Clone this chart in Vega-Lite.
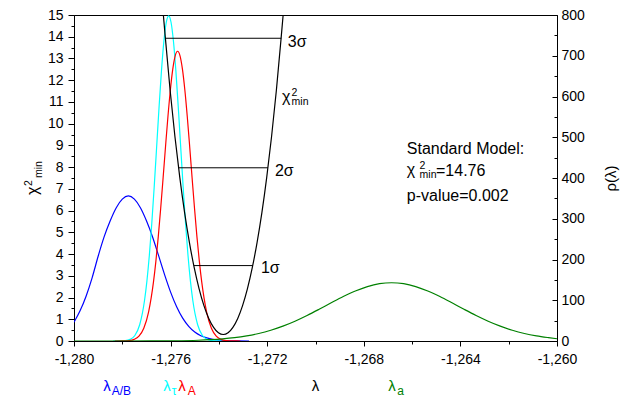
{
  "$schema": "https://vega.github.io/schema/vega-lite/v6.json",
  "width": 483,
  "height": 326,
  "autosize": {"type": "none"},
  "padding": {"left": 74, "top": 15, "right": 86, "bottom": 57},
  "background": "white",
  "config": {
    "font": "Liberation Sans",
    "view": {"stroke": "#000", "strokeWidth": 1},
    "axis": {"domainColor": "#000", "tickColor": "#000", "labelColor": "#000", "labelFont": "Liberation Sans", "labelFontSize": 14, "grid": false, "titleFontWeight": "normal", "titleColor": "#000", "titleFont": "Liberation Sans", "domainWidth": 1, "tickWidth": 1}
  },
  "datasets": {
    "rho": [
      {"x": -1280, "r": 46, "s": "b"}, {"x": -1279.75, "r": 74, "s": "b"}, {"x": -1279.5, "r": 110, "s": "b"}, {"x": -1279.25, "r": 155, "s": "b"}, {"x": -1279, "r": 208, "s": "b"}, {"x": -1278.75, "r": 256, "s": "b"}, {"x": -1278.5, "r": 295, "s": "b"}, {"x": -1278.25, "r": 327, "s": "b"}, {"x": -1278, "r": 348, "s": "b"}, {"x": -1277.75, "r": 356, "s": "b"}, {"x": -1277.5, "r": 348, "s": "b"}, {"x": -1277.25, "r": 327, "s": "b"}, {"x": -1277, "r": 295, "s": "b"}, {"x": -1276.75, "r": 256, "s": "b"}, {"x": -1276.5, "r": 210, "s": "b"}, {"x": -1276.25, "r": 163, "s": "b"}, {"x": -1276, "r": 120, "s": "b"}, {"x": -1275.75, "r": 84, "s": "b"}, {"x": -1275.5, "r": 56, "s": "b"}, {"x": -1275.25, "r": 36, "s": "b"}, {"x": -1275, "r": 22, "s": "b"}, {"x": -1274.75, "r": 13, "s": "b"}, {"x": -1274.5, "r": 7.5, "s": "b"}, {"x": -1274.25, "r": 4, "s": "b"}, {"x": -1274, "r": 2, "s": "b"}, {"x": -1273.75, "r": 1, "s": "b"}, {"x": -1273.25, "r": 0.2, "s": "b"}, {"x": -1272.75, "r": 0, "s": "b"},
      {"x": -1278.38, "r": 0.01, "s": "c"}, {"x": -1278.08, "r": 0.19, "s": "c"}, {"x": -1277.88, "r": 0.94, "s": "c"}, {"x": -1277.68, "r": 3.9, "s": "c"}, {"x": -1277.48, "r": 13.5, "s": "c"}, {"x": -1277.28, "r": 39.8, "s": "c"}, {"x": -1277.08, "r": 99.4, "s": "c"}, {"x": -1276.98, "r": 147.7, "s": "c"}, {"x": -1276.88, "r": 210.4, "s": "c"}, {"x": -1276.78, "r": 287.6, "s": "c"}, {"x": -1276.68, "r": 377.1, "s": "c"}, {"x": -1276.58, "r": 474.2, "s": "c"}, {"x": -1276.48, "r": 571.8, "s": "c"}, {"x": -1276.38, "r": 661.6, "s": "c"}, {"x": -1276.28, "r": 734.2, "s": "c"}, {"x": -1276.18, "r": 781.6, "s": "c"}, {"x": -1276.08, "r": 798, "s": "c"}, {"x": -1275.98, "r": 781.6, "s": "c"}, {"x": -1275.88, "r": 734.2, "s": "c"}, {"x": -1275.78, "r": 661.6, "s": "c"}, {"x": -1275.68, "r": 571.8, "s": "c"}, {"x": -1275.58, "r": 474.2, "s": "c"}, {"x": -1275.48, "r": 377.1, "s": "c"}, {"x": -1275.38, "r": 287.6, "s": "c"}, {"x": -1275.28, "r": 210.4, "s": "c"}, {"x": -1275.18, "r": 147.7, "s": "c"}, {"x": -1275.08, "r": 99.4, "s": "c"}, {"x": -1274.88, "r": 39.8, "s": "c"}, {"x": -1274.68, "r": 13.5, "s": "c"}, {"x": -1274.48, "r": 3.9, "s": "c"}, {"x": -1274.28, "r": 0.94, "s": "c"}, {"x": -1274.08, "r": 0.19, "s": "c"}, {"x": -1273.78, "r": 0.01, "s": "c"},
      {"x": -1278.31, "r": 0.015, "s": "r"}, {"x": -1278.01, "r": 0.15, "s": "r"}, {"x": -1277.71, "r": 1.21, "s": "r"}, {"x": -1277.51, "r": 4.06, "s": "r"}, {"x": -1277.31, "r": 12.0, "s": "r"}, {"x": -1277.11, "r": 31.2, "s": "r"}, {"x": -1276.91, "r": 71.6, "s": "r"}, {"x": -1276.71, "r": 144.3, "s": "r"}, {"x": -1276.61, "r": 195.5, "s": "r"}, {"x": -1276.51, "r": 256.2, "s": "r"}, {"x": -1276.41, "r": 325.6, "s": "r"}, {"x": -1276.31, "r": 400.5, "s": "r"}, {"x": -1276.21, "r": 477.3, "s": "r"}, {"x": -1276.11, "r": 550.9, "s": "r"}, {"x": -1276.01, "r": 615.9, "s": "r"}, {"x": -1275.91, "r": 667.1, "s": "r"}, {"x": -1275.81, "r": 699.8, "s": "r"}, {"x": -1275.71, "r": 711, "s": "r"}, {"x": -1275.61, "r": 699.8, "s": "r"}, {"x": -1275.51, "r": 667.1, "s": "r"}, {"x": -1275.41, "r": 615.9, "s": "r"}, {"x": -1275.31, "r": 550.9, "s": "r"}, {"x": -1275.21, "r": 477.3, "s": "r"}, {"x": -1275.11, "r": 400.5, "s": "r"}, {"x": -1275.01, "r": 325.6, "s": "r"}, {"x": -1274.91, "r": 256.2, "s": "r"}, {"x": -1274.81, "r": 195.5, "s": "r"}, {"x": -1274.71, "r": 144.3, "s": "r"}, {"x": -1274.51, "r": 71.6, "s": "r"}, {"x": -1274.31, "r": 31.2, "s": "r"}, {"x": -1274.11, "r": 12.0, "s": "r"}, {"x": -1273.91, "r": 4.06, "s": "r"}, {"x": -1273.71, "r": 1.21, "s": "r"}, {"x": -1273.41, "r": 0.15, "s": "r"}, {"x": -1273.11, "r": 0.015, "s": "r"},
      {"x": -1280, "r": 0, "s": "g"}, {"x": -1278.85, "r": 0.008, "s": "g"}, {"x": -1277.85, "r": 0.04, "s": "g"}, {"x": -1276.85, "r": 0.17, "s": "g"}, {"x": -1275.85, "r": 0.6, "s": "g"}, {"x": -1274.85, "r": 1.9, "s": "g"}, {"x": -1274.35, "r": 3.2, "s": "g"}, {"x": -1273.85, "r": 5.2, "s": "g"}, {"x": -1273.35, "r": 8.2, "s": "g"}, {"x": -1272.85, "r": 12.6, "s": "g"}, {"x": -1272.35, "r": 18.5, "s": "g"}, {"x": -1271.85, "r": 26.4, "s": "g"}, {"x": -1271.35, "r": 36.4, "s": "g"}, {"x": -1270.85, "r": 48.5, "s": "g"}, {"x": -1270.35, "r": 62.5, "s": "g"}, {"x": -1269.85, "r": 77.8, "s": "g"}, {"x": -1269.35, "r": 93.7, "s": "g"}, {"x": -1268.85, "r": 109.1, "s": "g"}, {"x": -1268.35, "r": 122.8, "s": "g"}, {"x": -1267.85, "r": 133.6, "s": "g"}, {"x": -1267.35, "r": 140.6, "s": "g"}, {"x": -1266.85, "r": 143, "s": "g"}, {"x": -1266.35, "r": 140.6, "s": "g"}, {"x": -1265.85, "r": 133.6, "s": "g"}, {"x": -1265.35, "r": 122.8, "s": "g"}, {"x": -1264.85, "r": 109.1, "s": "g"}, {"x": -1264.35, "r": 93.7, "s": "g"}, {"x": -1263.85, "r": 77.8, "s": "g"}, {"x": -1263.35, "r": 62.5, "s": "g"}, {"x": -1262.85, "r": 48.5, "s": "g"}, {"x": -1262.35, "r": 36.4, "s": "g"}, {"x": -1261.85, "r": 26.4, "s": "g"}, {"x": -1261.35, "r": 18.5, "s": "g"}, {"x": -1260.85, "r": 12.6, "s": "g"}, {"x": -1260.35, "r": 8.2, "s": "g"}, {"x": -1260, "r": 5.5, "s": "g"}
    ],
    "chi": [
      {"x": -1276.30, "y": 15}, {"x": -1276.22, "y": 13.98}, {"x": -1276.02, "y": 11.54}, {"x": -1275.82, "y": 9.40}, {"x": -1275.62, "y": 7.53}, {"x": -1275.42, "y": 5.91}, {"x": -1275.22, "y": 4.53}, {"x": -1275.02, "y": 3.36}, {"x": -1274.82, "y": 2.40}, {"x": -1274.62, "y": 1.63}, {"x": -1274.42, "y": 1.04}, {"x": -1274.22, "y": 0.63}, {"x": -1274.02, "y": 0.38}, {"x": -1273.82, "y": 0.30}, {"x": -1273.62, "y": 0.38}, {"x": -1273.42, "y": 0.63}, {"x": -1273.22, "y": 1.04}, {"x": -1273.02, "y": 1.63}, {"x": -1272.82, "y": 2.40}, {"x": -1272.62, "y": 3.36}, {"x": -1272.42, "y": 4.53}, {"x": -1272.22, "y": 5.91}, {"x": -1272.02, "y": 7.53}, {"x": -1271.82, "y": 9.40}, {"x": -1271.62, "y": 11.54}, {"x": -1271.42, "y": 13.98}, {"x": -1271.34, "y": 15}
    ],
    "sig": [
      {"x": -1275.04, "x2": -1272.60, "y": 3.47},
      {"x": -1275.67, "x2": -1271.97, "y": 7.97},
      {"x": -1276.22, "x2": -1271.42, "y": 13.93}
    ],
    "ann": [
      {"t": "1σ", "x": -1272.26, "y": 3.13},
      {"t": "2σ", "x": -1271.68, "y": 7.59},
      {"t": "3σ", "x": -1271.15, "y": 13.55},
      {"t": "χ", "x": -1271.39, "y": 11.0},
      {"t": "Standard Model:", "x": -1266.22, "y": 8.61},
      {"t": "χ", "x": -1266.22, "y": 7.64},
      {"t": "=14.76", "x": -1265.01, "y": 7.59},
      {"t": "p-value=0.002", "x": -1266.22, "y": 6.44}
    ],
    "annSmall": [
      {"t": "2", "x": -1270.99, "y": 11.27},
      {"t": "min", "x": -1270.99, "y": 10.86},
      {"t": "2", "x": -1265.69, "y": 7.92},
      {"t": "min", "x": -1265.69, "y": 7.50}
    ],
    "titleMain": [
      {"t": "χ", "x": -1281.49, "y": 6.72}
    ],
    "titleSmall": [
      {"t": "2", "x": -1281.74, "y": 7.13},
      {"t": "min", "x": -1281.33, "y": 7.50}
    ],
    "lamMain": [
      {"t": "λ", "x": -1278.79, "y": -2.28, "c": "b"},
      {"t": "λ", "x": -1276.30, "y": -2.28, "c": "c"},
      {"t": "λ", "x": -1275.68, "y": -2.28, "c": "r"},
      {"t": "λ", "x": -1270.16, "y": -2.28, "c": "k"},
      {"t": "λ", "x": -1266.99, "y": -2.28, "c": "g"}
    ],
    "lamSub": [
      {"t": "A/B", "x": -1278.44, "y": -2.48, "c": "b"},
      {"t": "τ", "x": -1275.95, "y": -2.48, "c": "c"},
      {"t": "A", "x": -1275.29, "y": -2.48, "c": "r"},
      {"t": "a", "x": -1266.61, "y": -2.48, "c": "g"}
    ]
  },
  "layer": [
    {
      "data": {"name": "rho"},
      "mark": {"type": "line", "interpolate": "monotone", "strokeWidth": 1.2, "clip": true},
      "encoding": {
        "x": {"field": "x", "type": "quantitative", "scale": {"domain": [-1280, -1260], "nice": false, "zero": false},
              "axis": {"orient": "bottom", "values": [-1280, -1276, -1272, -1268, -1264, -1260], "tickSize": 5, "labelPadding": 6, "labelFlush": false, "labelExpr": "replace(format(datum.value, ','), '−', '-')", "title": null}},
        "y": {"field": "r", "type": "quantitative", "scale": {"domain": [0, 800], "nice": false, "zero": false},
              "axis": {"orient": "right", "values": [0, 100, 200, 300, 400, 500, 600, 700, 800], "tickSize": -5, "labelPadding": 9, "labelFlush": false, "title": "ρ(λ)", "titleFontSize": 15, "titleAngle": 270, "titleX": 53, "titleY": 163, "titleAlign": "center", "titleBaseline": "middle"}},
        "color": {"field": "s", "type": "nominal", "scale": {"domain": ["b", "c", "r", "g", "k"], "range": ["#0000ff", "#00ffff", "#ff0000", "#008000", "#000000"]}, "legend": null}
      }
    },
    {
      "data": {"name": "rho"},
      "mark": {"type": "point", "opacity": 0},
      "encoding": {
        "x": {"field": "x", "type": "quantitative", "scale": {"domain": [-1280, -1260], "nice": false, "zero": false},
              "axis": {"orient": "bottom", "values": [-1278, -1274, -1270, -1266, -1262], "tickSize": 3, "labels": false, "domain": false, "title": null}},
        "y": {"field": "r", "type": "quantitative", "scale": {"domain": [0, 800], "nice": false, "zero": false},
              "axis": {"orient": "right", "values": [50, 150, 250, 350, 450, 550, 650, 750], "tickSize": -3, "labels": false, "domain": false, "title": null}}
      }
    },
    {
      "data": {"name": "chi"},
      "mark": {"type": "line", "interpolate": "monotone", "color": "#000", "strokeWidth": 1.2, "clip": true},
      "encoding": {
        "x": {"field": "x", "type": "quantitative", "scale": {"domain": [-1280, -1260], "nice": false, "zero": false}, "axis": null},
        "y": {"field": "y", "type": "quantitative", "scale": {"domain": [0, 15], "nice": false, "zero": false},
              "axis": {"orient": "left", "values": [0, 1, 2, 3, 4, 5, 6, 7, 8, 9, 10, 11, 12, 13, 14, 15], "tickSize": 6, "labelPadding": 5, "labelFlush": false, "title": null}}
      }
    },
    {
      "data": {"name": "chi"},
      "mark": {"type": "point", "opacity": 0},
      "encoding": {
        "x": {"field": "x", "type": "quantitative", "scale": {"domain": [-1280, -1260], "nice": false, "zero": false}, "axis": null},
        "y": {"field": "y", "type": "quantitative", "scale": {"domain": [0, 15], "nice": false, "zero": false},
              "axis": {"orient": "left", "values": [0.5, 1.5, 2.5, 3.5, 4.5, 5.5, 6.5, 7.5, 8.5, 9.5, 10.5, 11.5, 12.5, 13.5, 14.5], "tickSize": 3, "labels": false, "domain": false, "title": null}}
      }
    },
    {
      "data": {"name": "sig"},
      "mark": {"type": "rule", "color": "#000", "strokeWidth": 1},
      "encoding": {
        "x": {"field": "x", "type": "quantitative", "scale": {"domain": [-1280, -1260], "nice": false, "zero": false}, "axis": null},
        "x2": {"field": "x2"},
        "y": {"field": "y", "type": "quantitative", "scale": {"domain": [0, 15], "nice": false, "zero": false}, "axis": null}
      }
    },
    {
      "data": {"name": "ann"},
      "mark": {"type": "text", "align": "left", "baseline": "alphabetic", "fontSize": 16, "color": "#000"},
      "encoding": {
        "x": {"field": "x", "type": "quantitative", "scale": {"domain": [-1280, -1260], "nice": false, "zero": false}, "axis": null},
        "y": {"field": "y", "type": "quantitative", "scale": {"domain": [0, 15], "nice": false, "zero": false}, "axis": null},
        "text": {"field": "t"}
      }
    },
    {
      "data": {"name": "annSmall"},
      "mark": {"type": "text", "align": "left", "baseline": "alphabetic", "fontSize": 10.5, "color": "#000"},
      "encoding": {
        "x": {"field": "x", "type": "quantitative", "scale": {"domain": [-1280, -1260], "nice": false, "zero": false}, "axis": null},
        "y": {"field": "y", "type": "quantitative", "scale": {"domain": [0, 15], "nice": false, "zero": false}, "axis": null},
        "text": {"field": "t"}
      }
    },
    {
      "data": {"name": "titleMain"},
      "mark": {"type": "text", "align": "left", "baseline": "alphabetic", "fontSize": 16, "angle": 270, "color": "#000"},
      "encoding": {
        "x": {"field": "x", "type": "quantitative", "scale": {"domain": [-1280, -1260], "nice": false, "zero": false}, "axis": null},
        "y": {"field": "y", "type": "quantitative", "scale": {"domain": [0, 15], "nice": false, "zero": false}, "axis": null},
        "text": {"field": "t"}
      }
    },
    {
      "data": {"name": "titleSmall"},
      "mark": {"type": "text", "align": "left", "baseline": "alphabetic", "fontSize": 10.5, "angle": 270, "color": "#000"},
      "encoding": {
        "x": {"field": "x", "type": "quantitative", "scale": {"domain": [-1280, -1260], "nice": false, "zero": false}, "axis": null},
        "y": {"field": "y", "type": "quantitative", "scale": {"domain": [0, 15], "nice": false, "zero": false}, "axis": null},
        "text": {"field": "t"}
      }
    },
    {
      "data": {"name": "lamMain"},
      "mark": {"type": "text", "align": "left", "baseline": "alphabetic", "fontSize": 15},
      "encoding": {
        "x": {"field": "x", "type": "quantitative", "scale": {"domain": [-1280, -1260], "nice": false, "zero": false}, "axis": null},
        "y": {"field": "y", "type": "quantitative", "scale": {"domain": [0, 15], "nice": false, "zero": false}, "axis": null},
        "text": {"field": "t"},
        "color": {"field": "c", "type": "nominal", "scale": {"domain": ["b", "c", "r", "g", "k"], "range": ["#0000ff", "#00ffff", "#ff0000", "#008000", "#000000"]}, "legend": null}
      }
    },
    {
      "data": {"name": "lamSub"},
      "mark": {"type": "text", "align": "left", "baseline": "alphabetic", "fontSize": 12},
      "encoding": {
        "x": {"field": "x", "type": "quantitative", "scale": {"domain": [-1280, -1260], "nice": false, "zero": false}, "axis": null},
        "y": {"field": "y", "type": "quantitative", "scale": {"domain": [0, 15], "nice": false, "zero": false}, "axis": null},
        "text": {"field": "t"},
        "color": {"field": "c", "type": "nominal", "scale": {"domain": ["b", "c", "r", "g", "k"], "range": ["#0000ff", "#00ffff", "#ff0000", "#008000", "#000000"]}, "legend": null}
      }
    }
  ],
  "resolve": {"scale": {"y": "independent"}, "axis": {"y": "independent", "x": "independent"}}
}
